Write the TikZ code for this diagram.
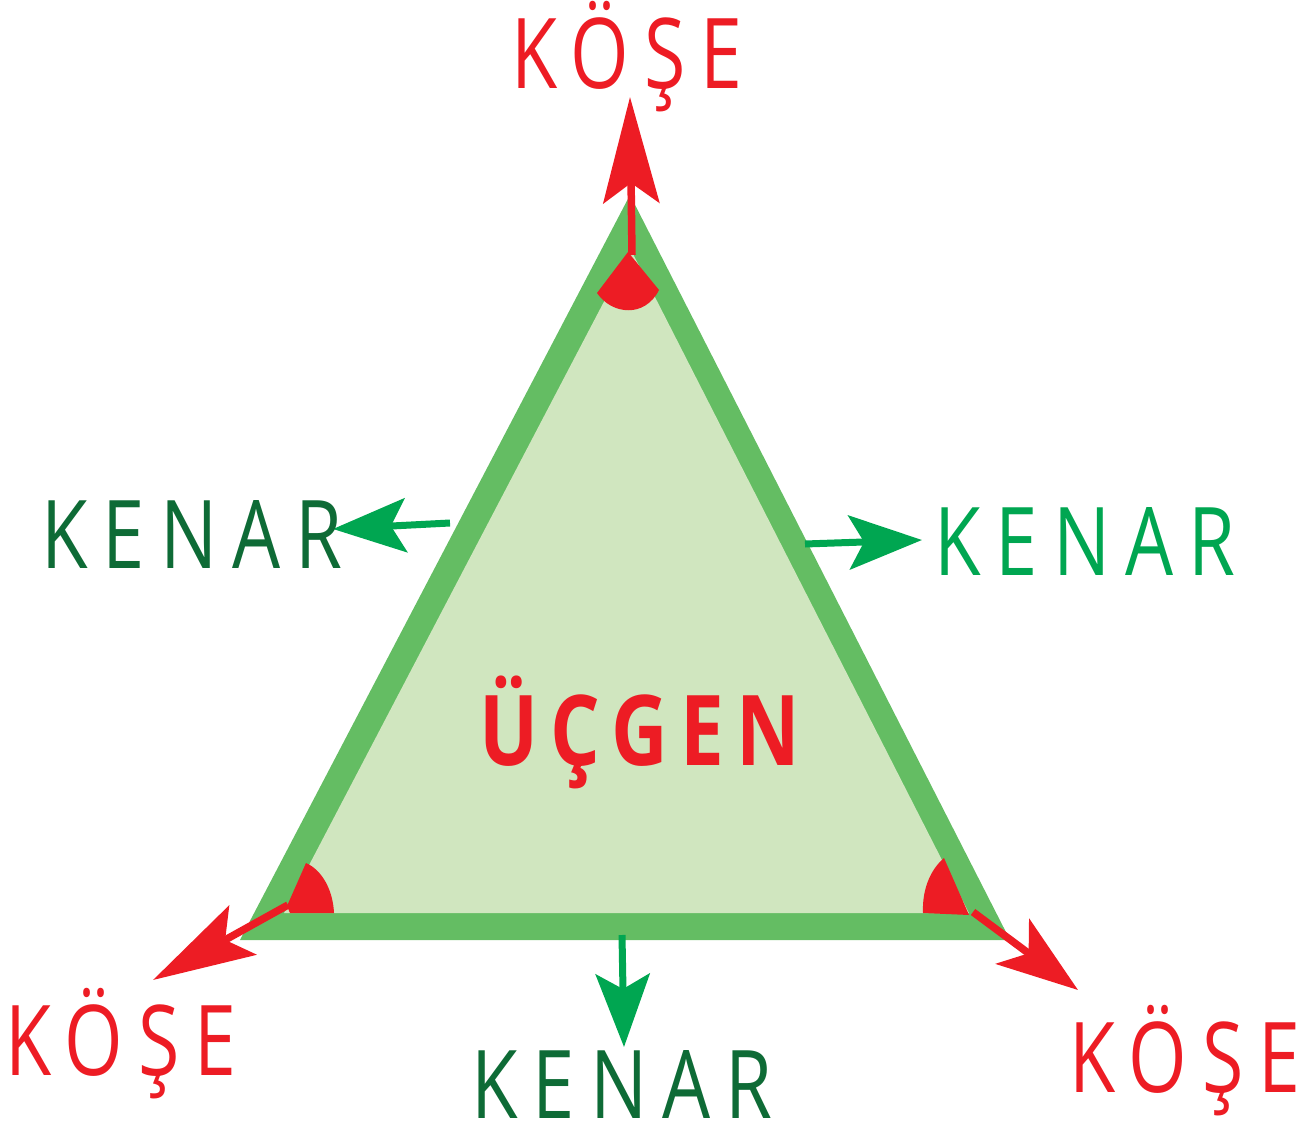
\documentclass[tikz,border=0pt]{standalone}
\usepackage{fontspec}
\usepackage{graphicx}
\setmainfont{Open Sans}
\usetikzlibrary{arrows.meta}
\definecolor{tred}{HTML}{ED1C24}
\definecolor{tdark}{HTML}{0E6B36}
\definecolor{tlight}{HTML}{00A651}
\definecolor{tband}{HTML}{64BD63}
\definecolor{tfill}{HTML}{D0E6BF}
\tikzset{
  redarrow/.style={draw=tred, line width=0.15cm, -{Stealth[length=#1, width=1.12cm, inset=0.4cm]}, fill=tred},
  greenarrow/.style={draw=tlight, line width=0.14cm, -{Stealth[length=1.46cm, width=1.08cm, inset=0.3cm]}},
  sector/.style={fill=tred, draw=none},
  kose/.style={text=tred, anchor=base, inner sep=0pt, text depth=0pt},
  kenar/.style={anchor=base, inner sep=0pt, text depth=0pt},
}
\newcommand{\kosetext}{{\fontsize{55.6}{60}\selectfont\addfontfeature{LetterSpace=20}\scalebox{0.77}[1]{KÖŞE}}}
\newcommand{\kenartext}{{\fontsize{54}{60}\selectfont\addfontfeature{LetterSpace=20}\scalebox{0.8}[1]{KENAR}}}
\begin{document}
\begin{tikzpicture}[x=0.02cm, y=-0.02cm]
\useasboundingbox (0,0) rectangle (1316,1129);
% triangle
\fill[tband] (630,195) -- (240,940) -- (1010,940) -- cycle;
\fill[tfill] (631,250) -- (284,913) -- (969,913) -- cycle;
% corner sectors
\fill[sector] (628,252) -- (597,293) .. controls (612,315) and (645,318) .. (659,290) -- cycle;
\fill[sector] (287,906) -- (306,863) .. controls (322,870) and (333,890) .. (334,913) -- (290,913) -- cycle;
\fill[sector] (969,915) -- (944,858) .. controls (930,870) and (922,890) .. (923,913) -- cycle;
% coordinates for connectors
\coordinate (ta) at (632,255);
\coordinate (tb) at (630,97);
\coordinate (la) at (288,905);
\coordinate (lb) at (153,980);
\coordinate (ra) at (973,912);
\coordinate (rb) at (1078,990);
\coordinate (gla) at (450,523);
\coordinate (glb) at (333,529);
\coordinate (gra) at (805,544);
\coordinate (grb) at (922,540);
\coordinate (gba) at (622,935);
\coordinate (gbb) at (624,1047);
% red arrows
\draw[redarrow=2.12cm] (ta) -- (tb);
\draw[redarrow=2.05cm] (la) -- (lb);
\draw[redarrow=1.63cm] (ra) -- (rb);
% green arrows
\draw[greenarrow] (gla) -- (glb);
\draw[greenarrow] (gra) -- (grb);
\draw[greenarrow] (gba) -- (gbb);
% texts
\node[kose] (k1) at (627,88) {\kosetext};
\node[kose] (k2) at (121,1075) {\kosetext};
\node[kose] (k3) at (1185,1092) {\kosetext};
\node[kenar, text=tdark] (n1) at (192,568) {\kenartext};
\node[kenar, text=tlight] (n2) at (1085,575) {\kenartext};
\node[kenar, text=tdark] (n3) at (622,1118) {\kenartext};
\node[kose] (u) at (640,765) {\fontsize{55.6}{60}\selectfont\bfseries\addfontfeature{LetterSpace=16}\scalebox{0.8}[1]{ÜÇGEN}};
\end{tikzpicture}
\end{document}
